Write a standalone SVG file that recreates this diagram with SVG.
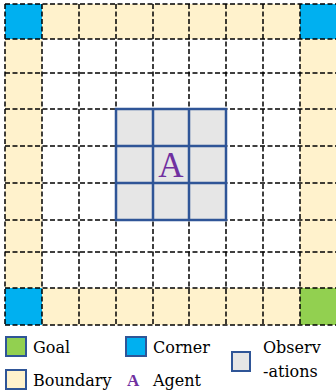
<svg xmlns="http://www.w3.org/2000/svg" width="336" height="392" viewBox="0 0 336 392">
<style>
.b{fill:#FFF2CC}
.c{fill:#00B0F0}
.g{fill:#92D050}
.o{fill:#E6E6E6;stroke:#2F5597;stroke-width:2.5}
.d{stroke:#000;stroke-width:1.5;stroke-dasharray:5 2.5;fill:none}
.s{stroke:#2F5597;stroke-width:2.5}
.t{font-family:"DejaVu Serif","Liberation Serif",serif;font-size:16px;fill:#000}
.a{font-family:"Liberation Serif","DejaVu Serif",serif;fill:#7030A0}
</style>
<rect width="336" height="392" fill="#fff"/>
<g id="boundary">
<rect class="b" x="42" y="4" width="258" height="35"/>
<rect class="b" x="42" y="288" width="258" height="37"/>
<rect class="b" x="5" y="39" width="37" height="249"/>
<rect class="b" x="300" y="39" width="37" height="249"/>
</g>
<g id="corners">
<rect class="c" x="5" y="4" width="37" height="35"/>
<rect class="c" x="300" y="4" width="37" height="35"/>
<rect class="c" x="5" y="288" width="37" height="37"/>
</g>
<g id="goal"><rect class="g" x="300" y="288" width="37" height="37"/></g>
<g id="grid">
<path class="d" d="M5 4V325M42 4V325M79 4V325M116 4V325M153 4V325M189 4V325M226 4V325M263 4V325M300 4V325M337 4V325"/>
<path class="d" d="M5 4H337M5 39H337M5 73H337M5 109H337M5 146H337M5 183H337M5 220H337M5 252H337M5 288H337M5 325H337"/>
</g>
<g id="observations">
<rect class="o" x="116" y="109" width="110" height="111"/>
<path class="s" d="M153 109V220M189 109V220M116 146H226M116 183H226"/>
</g>
<g id="agent"><text class="a" x="171" y="177" font-size="35" text-anchor="middle">A</text></g>
<g id="legend">
<g id="leg-goal"><rect class="g" x="6" y="337" width="20" height="19" stroke="#2F5597" stroke-width="2"/><text class="t" x="33" y="353">Goal</text></g>
<g id="leg-corner"><rect class="c" x="126" y="337" width="20" height="19" stroke="#2F5597" stroke-width="2"/><text class="t" x="153" y="353">Corner</text></g>
<g id="leg-obs"><rect x="232" y="352" width="18" height="19" fill="#E6E6E6" stroke="#2F5597" stroke-width="2"/><text class="t" x="263" y="353">Observ</text><text class="t" x="263" y="377">-ations</text></g>
<g id="leg-boundary"><rect class="b" x="6" y="370" width="20" height="19" stroke="#2F5597" stroke-width="2"/><text class="t" x="33" y="386">Boundary</text></g>
<g id="leg-agent"><text class="a" x="127" y="386" font-size="17" font-weight="bold">A</text><text class="t" x="153" y="386">Agent</text></g>
</g>
</svg>
